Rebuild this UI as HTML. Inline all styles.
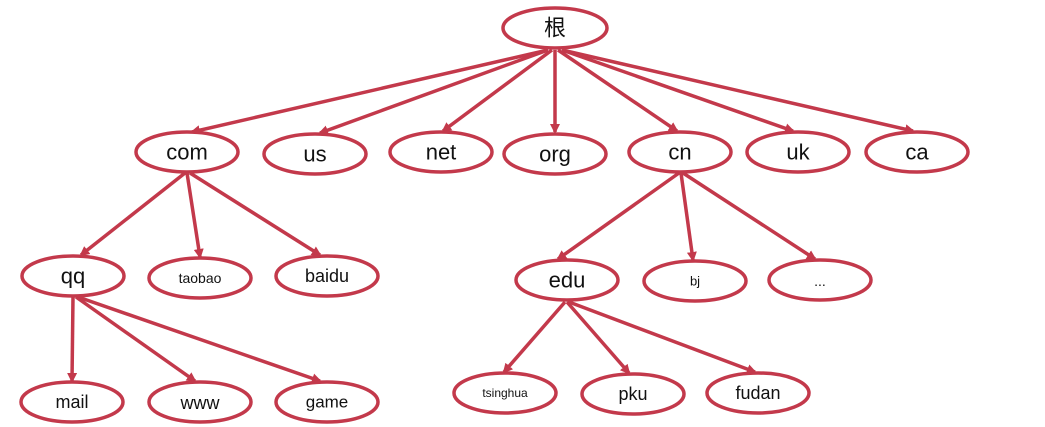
<!DOCTYPE html>
<html><head><meta charset="utf-8"><style>
html,body{margin:0;padding:0;background:#fff;}
svg{display:block}
text{font-family:"Liberation Sans","Noto Sans CJK SC",sans-serif;fill:#111;text-anchor:middle;dominant-baseline:central}
</style></head><body>
<svg width="1045" height="427" viewBox="0 0 1045 427" xmlns="http://www.w3.org/2000/svg">
<defs>
<marker id="a" markerWidth="10" markerHeight="10" refX="8" refY="5" orient="auto" markerUnits="userSpaceOnUse" viewBox="0 0 10 10">
<path d="M0,0 L10,5 L0,10 z" fill="#c3394b"/>
</marker>
</defs>
<g stroke="#c3394b" stroke-width="3.5" fill="none" marker-end="url(#a)">
<line x1="548" y1="50" x2="192" y2="132"/>
<line x1="548" y1="50" x2="320" y2="133"/>
<line x1="552" y1="50" x2="443" y2="131"/>
<line x1="555" y1="50" x2="555" y2="132"/>
<line x1="558" y1="50" x2="677" y2="131"/>
<line x1="562" y1="50" x2="793" y2="131"/>
<line x1="562" y1="50" x2="913" y2="131"/>
<line x1="185" y1="173" x2="81" y2="255"/>
<line x1="187" y1="173" x2="200" y2="257"/>
<line x1="190" y1="173" x2="320" y2="255"/>
<line x1="73" y1="297" x2="72" y2="381"/>
<line x1="76" y1="297" x2="195" y2="381"/>
<line x1="78" y1="297" x2="320" y2="381"/>
<line x1="679" y1="173" x2="558" y2="259"/>
<line x1="681" y1="173" x2="693" y2="260"/>
<line x1="683" y1="173" x2="815" y2="259"/>
<line x1="565" y1="302" x2="504" y2="372"/>
<line x1="567" y1="302" x2="629" y2="373"/>
<line x1="569" y1="302" x2="755" y2="372"/>
</g>
<g stroke="#c3394b" stroke-width="3.5" fill="#fff">
<ellipse cx="555" cy="28" rx="52" ry="20"/>
<ellipse cx="187" cy="152" rx="51" ry="20"/>
<ellipse cx="315" cy="154" rx="51" ry="20"/>
<ellipse cx="441" cy="152" rx="51" ry="20"/>
<ellipse cx="555" cy="154" rx="51" ry="20"/>
<ellipse cx="680" cy="152" rx="51" ry="20"/>
<ellipse cx="798" cy="152" rx="51" ry="20"/>
<ellipse cx="917" cy="152" rx="51" ry="20"/>
<ellipse cx="73" cy="276" rx="51" ry="20"/>
<ellipse cx="200" cy="278" rx="51" ry="20"/>
<ellipse cx="327" cy="276" rx="51" ry="20"/>
<ellipse cx="567" cy="280" rx="51" ry="20"/>
<ellipse cx="695" cy="281" rx="51" ry="20"/>
<ellipse cx="820" cy="280" rx="51" ry="20"/>
<ellipse cx="72" cy="402" rx="51" ry="20"/>
<ellipse cx="200" cy="402" rx="51" ry="20"/>
<ellipse cx="327" cy="402" rx="51" ry="20"/>
<ellipse cx="505" cy="393" rx="51" ry="20"/>
<ellipse cx="633" cy="394" rx="51" ry="20"/>
<ellipse cx="758" cy="393" rx="51" ry="20"/>
</g>
<g font-size="22">
<text x="555" y="28">根</text>
<text x="187" y="152">com</text>
<text x="315" y="154">us</text>
<text x="441" y="152">net</text>
<text x="555" y="154">org</text>
<text x="680" y="152">cn</text>
<text x="798" y="152">uk</text>
<text x="917" y="152">ca</text>
<text x="73" y="276">qq</text>
<text x="567" y="280">edu</text>
</g>
<g font-size="18">
<text x="327" y="276">baidu</text>
<text x="72" y="402">mail</text>
<text x="200" y="403">www</text>
<text x="633" y="394">pku</text>
<text x="758" y="393">fudan</text>
</g>
<text x="327" y="402" font-size="17">game</text>
<text x="200" y="278" font-size="14">taobao</text>
<text x="695" y="281" font-size="13">bj</text>
<text x="820" y="281" font-size="14">...</text>
<text x="505" y="393" font-size="12">tsinghua</text>
</svg>
</body></html>
